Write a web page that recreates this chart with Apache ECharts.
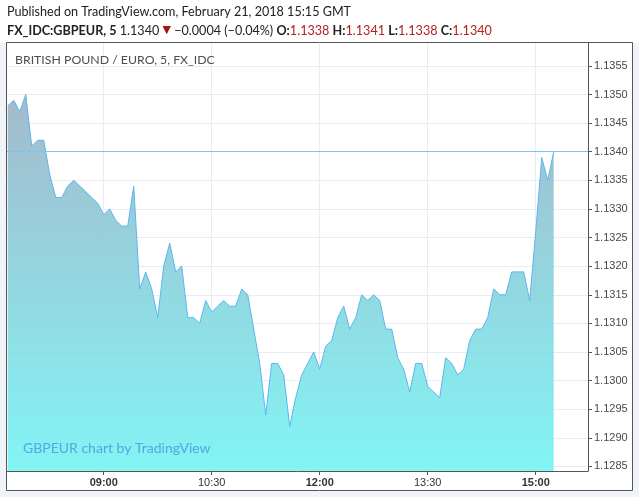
<!DOCTYPE html>
<html>
<head>
<meta charset="utf-8">
<script src="https://cdn.jsdelivr.net/npm/echarts@6/dist/echarts.min.js"></script>
<style>
html,body{margin:0;padding:0;background:#fff;}
#c{width:639px;height:497px;}
</style>
</head>
<body>
<div id="c"></div>
<script>
// ---- data ----
const times = [
 '07:40','07:45','07:50','07:55','08:00','08:05','08:10','08:15','08:20','08:25','08:30','08:35',
 '08:40','08:45','08:50','08:55','09:00','09:05','09:10','09:15','09:20','09:25','09:30','09:35',
 '09:40','09:45','09:50','09:55','10:00','10:05','10:10','10:15','10:20','10:25','10:30','10:35',
 '10:40','10:45','10:50','10:55','11:00','11:05','11:10','11:15','11:20','11:25','11:30','11:35',
 '11:40','11:45','11:50','11:55','12:00','12:05','12:10','12:15','12:20','12:25','12:30','12:35',
 '12:40','12:45','12:50','12:55','13:00','13:05','13:10','13:15','13:20','13:25','13:30','13:35',
 '13:40','13:45','13:50','13:55','14:00','14:05','14:10','14:15','14:20','14:25','14:30','14:35',
 '14:40','14:45','14:50','14:55','15:00','15:05','15:10','15:15'
];
const closes = [
 1.1348,1.1349,1.1347,1.1350,1.1341,1.1342,1.1342,1.1336,1.1332,1.1332,1.1334,1.1335,
 1.1334,1.1333,1.1332,1.1331,1.1329,1.1330,1.1328,1.1327,1.1327,1.1334,1.1316,1.1319,
 1.1316,1.1311,1.1320,1.1324,1.1319,1.1320,1.1311,1.1311,1.1310,1.1314,1.1312,1.1313,
 1.1314,1.1313,1.1313,1.1316,1.1315,1.1309,1.1303,1.1294,1.1303,1.1303,1.1301,1.1292,
 1.1297,1.1301,1.1303,1.1305,1.1302,1.1306,1.1307,1.1311,1.1313,1.1309,1.1311,1.1315,
 1.1314,1.1315,1.1314,1.1309,1.1309,1.1304,1.1302,1.1298,1.1303,1.1303,1.1299,1.1298,
 1.1297,1.1304,1.1303,1.1301,1.1302,1.1307,1.1309,1.1309,1.1311,1.1316,1.1315,1.1315,
 1.1319,1.1319,1.1319,1.1314,1.1326,1.1339,1.1335,1.1340
];
const priceTicks = [1.1285,1.1290,1.1295,1.1300,1.1305,1.1310,1.1315,1.1320,1.1325,1.1330,1.1335,1.1340,1.1345,1.1350,1.1355];
const timeTicks = ['09:00','10:30','12:00','13:30','15:00'];
const boldTimeTicks = ['09:00','12:00','15:00'];
const lastPrice = 1.1340;
const headerLine1 = 'Published on TradingView.com, February 21, 2018 15:15 GMT';
const symbolText = 'FX_IDC:GBPEUR, 5';
const priceText = '1.1340';
const changeText = '\u22120.0004 (\u22120.04%)';
const ohlcLabels = ['O:','H:','L:','C:'];
const ohlcValues = ['1.1338','1.1341','1.1338','1.1340'];
const paneTitle = 'BRITISH POUND / EURO, 5, FX_IDC';
const watermark = 'GBPEUR chart by TradingView';

// ---- helpers ----
const toMin = s => { const p = s.split(':'); return (+p[0]) * 60 + (+p[1]); };
const pad = n => (n < 10 ? '0' : '') + n;
const fmtMin = m => pad(Math.floor(Math.round(m) / 60)) + ':' + pad(Math.round(m) % 60);

const seriesData = times.map((t, i) => [toMin(t), closes[i]]);
const xTickVals = timeTicks.map(toMin);

let ohlcRich = '';
ohlcLabels.forEach((l, i) => { ohlcRich += ' {bd|' + l + '}{rd|' + ohlcValues[i] + '}'; });
const line2 = '{bd|' + symbolText + '}{n| ' + priceText + ' }{tri|\u25BC}{n| ' + changeText + '}' + ohlcRich;

const chart = echarts.init(document.getElementById('c'), null, {renderer: 'canvas'});
const axisColor = '#555555';
const gridColor = '#e8edf2';
const hdrFont = 'Lato, sans-serif';

chart.setOption({
  backgroundColor: '#ffffff',
  animation: false,
  grid: {left: 7, right: 51, top: 43, bottom: 26, containLabel: false},
  xAxis: {
    type: 'value',
    min: 459.4,
    max: 943.57,
    axisLine: {show: true, lineStyle: {color: axisColor, width: 1}},
    axisTick: {show: true, length: 4, customValues: xTickVals, lineStyle: {color: axisColor}},
    splitLine: {show: false},
    axisLabel: {
      customValues: xTickVals,
      margin: 6,
      color: '#333',
      fontFamily: 'Liberation Sans, Arial, sans-serif',
      fontSize: 11,
      formatter: v => {
        const s = fmtMin(v);
        return boldTimeTicks.indexOf(s) >= 0 ? '{b|' + s + '}' : s;
      },
      rich: {b: {fontWeight: 'bold', color: '#333', fontSize: 11, fontFamily: 'Liberation Sans, Arial, sans-serif'}}
    }
  },
  yAxis: {
    type: 'value',
    position: 'right',
    min: 1.12842,
    max: 1.13590,
    axisLine: {show: true, lineStyle: {color: axisColor, width: 1}},
    axisTick: {show: true, length: 4, customValues: priceTicks, lineStyle: {color: axisColor}},
    splitLine: {show: false},
    axisLabel: {
      customValues: priceTicks,
      margin: 6,
      color: '#4a4a4a',
      fontFamily: 'Liberation Sans, Arial, sans-serif',
      fontSize: 11,
      formatter: v => v.toFixed(4)
    }
  },
  series: [
    {
      // grid lines drawn through the axis scales
      type: 'line',
      data: [],
      silent: true,
      z: 1,
      markLine: {
        silent: true,
        z: 1,
        precision: 6,
        symbol: ['none', 'none'],
        animation: false,
        label: {show: false},
        lineStyle: {color: gridColor, width: 1, type: 'solid'},
        emphasis: {disabled: true},
        data: priceTicks.filter(v => v !== lastPrice).map(v => ({yAxis: v})).concat(xTickVals.map(v => ({xAxis: v})))
      }
    },
    {
      type: 'line',
      data: seriesData,
      showSymbol: false,
      symbol: 'none',
      z: 3,
      lineStyle: {color: '#5cb6f0', width: 1},
      areaStyle: {
        opacity: 0.88,
        color: new echarts.graphic.LinearGradient(0, 0, 0, 1, [
          {offset: 0, color: '#98b0c5'},
          {offset: 1, color: '#71f3f3'}
        ])
      }
    },
    {
      // last price line
      type: 'line',
      data: [],
      silent: true,
      z: 6,
      color: '#7cc4f4',
      markLine: {
        silent: true,
        z: 6,
        precision: 6,
        symbol: ['none', 'none'],
        animation: false,
        label: {show: false},
        lineStyle: {color: '#7cc4f4', width: 1, type: 'solid', opacity: 1},
        emphasis: {disabled: true},
        data: [{yAxis: lastPrice}]
      }
    }
  ],
  graphic: [
    // outer light background strips around the chart frame
    {type: 'rect', shape: {x: 0, y: 43, width: 6, height: 454}, style: {fill: '#f0f3f7'}, z: 100},
    {type: 'rect', shape: {x: 633, y: 43, width: 6, height: 454}, style: {fill: '#f0f3f7'}, z: 100},
    {type: 'rect', shape: {x: 0, y: 491, width: 639, height: 6}, style: {fill: '#f0f3f7'}, z: 100},
    // frame border
    {type: 'rect', shape: {x: 6.5, y: 42.5, width: 626, height: 448}, style: {fill: 'none', stroke: axisColor, lineWidth: 1}, z: 101},
    // header line 1
    {type: 'text', left: 7, top: 5, z: 102, style: {text: headerLine1, fill: '#222', font: '12.6px ' + hdrFont}},
    // header line 2
    {type: 'text', left: 7, top: 24, z: 102, style: {
      text: line2,
      font: '12.6px ' + hdrFont,
      fill: '#222',
      rich: {
        bd: {fontWeight: 'bold', fontSize: 12.6, fontFamily: hdrFont, fill: '#222'},
        n: {fontSize: 12.6, fontFamily: hdrFont, fill: '#222'},
        rd: {fontSize: 12.6, fontFamily: hdrFont, fill: '#b22222'},
        tri: {fontSize: 11, fontFamily: 'DejaVu Sans, sans-serif', fill: '#a31515'}
      }
    }},
    // pane title
    {type: 'text', left: 15, top: 54, z: 102, style: {text: paneTitle, fill: '#4d4d4d', font: '12.3px ' + hdrFont}},
    // watermark
    {type: 'text', left: 23, top: 441, z: 102, style: {text: watermark, fill: '#4fa9e4', font: '14px ' + hdrFont}}
  ]
});
</script>
</body>
</html>
